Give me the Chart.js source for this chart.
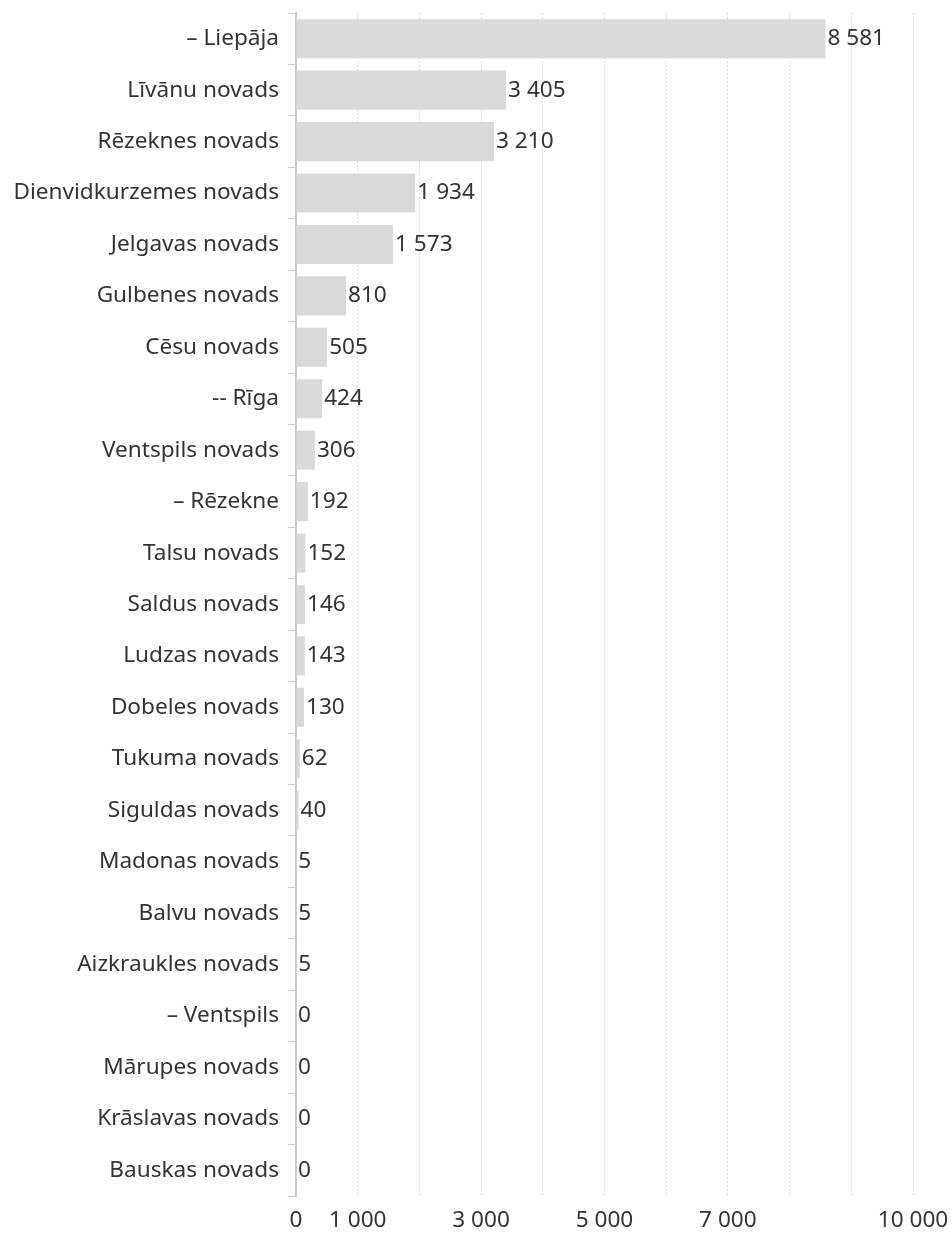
<!DOCTYPE html>
<html lang="lv">
<head>
<meta charset="UTF-8">
<title>Horizontālā stabiņu diagramma</title>
<script src="https://cdn.jsdelivr.net/npm/chart.js"></script>
<style>
    html, body { margin: 0; padding: 0; background: #fff; }
    .wrap { width: 952px; height: 1237px; position: relative; }
</style>
</head>
<body>
<div class="wrap"><canvas id="barChart"></canvas></div>
<script>
    // dati
    const categories = [
        '– Liepāja', 'Līvānu novads', 'Rēzeknes novads', 'Dienvidkurzemes novads',
        'Jelgavas novads', 'Gulbenes novads', 'Cēsu novads', '-- Rīga',
        'Ventspils novads', '– Rēzekne', 'Talsu novads', 'Saldus novads',
        'Ludzas novads', 'Dobeles novads', 'Tukuma novads', 'Siguldas novads',
        'Madonas novads', 'Balvu novads', 'Aizkraukles novads', '– Ventspils',
        'Mārupes novads', 'Krāslavas novads', 'Bauskas novads'
    ];
    const values = [8581, 3405, 3210, 1934, 1573, 810, 505, 424, 306, 192, 152, 146,
        143, 130, 62, 40, 5, 5, 5, 0, 0, 0, 0];
    const shownTicks = [0, 1000, 3000, 5000, 7000, 10000];

    const FONT = 'Noto Sans';
    const FSIZE = 22.6;

    function fmt(v) {
        return String(v).replace(/\B(?=(\d{3})+(?!\d))/g, ' ');
    }

    // vērtības pie stabiņu galiem
    const valueLabels = {
        id: 'valueLabels',
        afterDatasetsDraw(chart) {
            const ctx = chart.ctx;
            const meta = chart.getDatasetMeta(0);
            ctx.save();
            ctx.font = FSIZE + 'px "' + FONT + '"';
            ctx.fillStyle = '#333';
            ctx.textAlign = 'left';
            ctx.textBaseline = 'middle';
            meta.data.forEach((bar, i) => {
                ctx.fillText(fmt(values[i]), bar.x + 2, bar.y);
            });
            ctx.restore();
        }
    };

    new Chart(document.getElementById('barChart'), {
        type: 'bar',
        data: {
            labels: categories,
            datasets: [{
                data: values,
                backgroundColor: '#d9d9d9',
                borderWidth: 0,
                barPercentage: 0.76,
                categoryPercentage: 1
            }]
        },
        options: {
            indexAxis: 'y',
            responsive: true,
            maintainAspectRatio: false,
            animation: false,
            layout: { padding: { top: 13, right: 39, left: 0, bottom: 0 } },
            plugins: {
                legend: { display: false },
                tooltip: { enabled: false }
            },
            scales: {
                x: {
                    type: 'linear',
                    min: 0,
                    max: 10000,
                    afterFit(scale) {
                        scale.height = 41;
                        scale.paddingLeft = 0;
                        scale.paddingRight = 0;
                    },
                    grid: {
                        color: '#dcdcdc',
                        drawTicks: false,
                        lineWidth: 1
                    },
                    border: { display: false, dash: [2, 2] },
                    ticks: {
                        stepSize: 1000,
                        autoSkip: false,
                        maxRotation: 0,
                        padding: 11,
                        color: '#333',
                        font: { family: FONT, size: FSIZE },
                        callback: (v) => shownTicks.includes(v) ? fmt(v) : ''
                    }
                },
                y: {
                    afterFit(scale) {
                        scale.width = 296;
                        scale.paddingTop = 0;
                        scale.paddingBottom = 0;
                    },
                    grid: {
                        drawOnChartArea: false,
                        drawTicks: true,
                        tickLength: 8,
                        color: '#cccccc',
                        offset: true
                    },
                    border: { display: true, color: '#cccccc', width: 2 },
                    ticks: {
                        padding: 9,
                        color: '#333',
                        font: { family: FONT, size: FSIZE }
                    }
                }
            }
        },
        plugins: [valueLabels]
    });
</script>
</body>
</html>
